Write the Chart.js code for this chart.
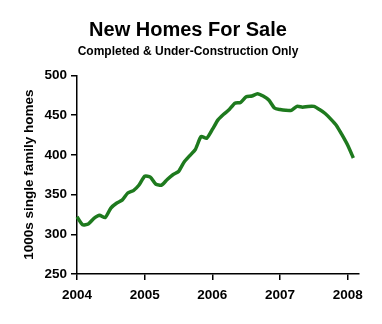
<!DOCTYPE html>
<html>
<head>
<meta charset="utf-8">
<script src="https://cdn.jsdelivr.net/npm/chart.js@4"></script>
<style>
 body {margin:0; background:#fff;}
 #grafico {display:block;}
</style>
</head>
<body>
<canvas id="grafico" width="382" height="324"></canvas>
<script>
//Meses (Ene 2004 a Mar 2008), solo se rotula enero
const meses = [
 "2004-01","2004-02","2004-03","2004-04","2004-05","2004-06","2004-07","2004-08","2004-09","2004-10","2004-11","2004-12",
 "2005-01","2005-02","2005-03","2005-04","2005-05","2005-06","2005-07","2005-08","2005-09","2005-10","2005-11","2005-12",
 "2006-01","2006-02","2006-03","2006-04","2006-05","2006-06","2006-07","2006-08","2006-09","2006-10","2006-11","2006-12",
 "2007-01","2007-02","2007-03","2007-04","2007-05","2007-06","2007-07","2007-08","2007-09","2007-10","2007-11","2007-12",
 "2008-01","2008-02","2008-03"
];
//Casas nuevas en venta (miles)
const casasEnVenta = [
 322,312,313,320,324,321,333,339,343,352,355,362,
 373,372,363,362,369,375,379,391,399,407,423,421,
 432,444,451,457,465,466,473,474,477,474,469,459,
 457,456,456,461,460,461,461,457,452,445,437,425,
 412,396
];
const ticksY = [250,300,350,400,450,500];

const fuente = "'Liberation Sans', Arial, sans-serif";
var canvas = document.getElementById("grafico");

//Devuelve true si el indice corresponde a enero
function esEnero(indice) {
 return meses[indice] !== undefined && meses[indice].endsWith("-01");
}

let chart = new Chart(canvas, {
 type: 'line',
 data: {
  labels: meses,
  datasets: [{
   data: casasEnVenta,
   borderColor: '#1e7a1e',
   borderWidth: 3.5,
   pointRadius: 0,
   tension: 0.2,
   fill: false
  }]
 },
 options: {
  responsive: false,
  animation: false,
  layout: {padding: {left: 17, right: 23, top: 0, bottom: 0}},
  plugins: {
   legend: {display: false},
   tooltip: {enabled: false},
   title: {
    display: true,
    text: 'New Homes For Sale',
    color: '#000',
    font: {family: fuente, size: 20, weight: 'bold'},
    padding: {top: 18, bottom: 0}
   },
   subtitle: {
    display: true,
    text: 'Completed & Under-Construction Only',
    color: '#000',
    font: {family: fuente, size: 12, weight: 'bold'},
    padding: {top: 2, bottom: 17}
   }
  },
  scales: {
   x: {
    type: 'category',
    offset: false,
    grid: {
     display: true,
     drawOnChartArea: false,
     drawTicks: true,
     tickLength: 6,
     tickWidth: 1.5,
     lineWidth: 1.5,
     color: ctx => esEnero(ctx.index) ? '#000' : 'rgba(0,0,0,0)',
     tickColor: ctx => esEnero(ctx.index) ? '#000' : 'rgba(0,0,0,0)'
    },
    border: {display: true, color: '#000', width: 1.5},
    ticks: {
     autoSkip: false,
     maxRotation: 0,
     color: '#000',
     padding: 7,
     font: {family: fuente, size: 13.5, weight: 'bold'},
     callback: function(valor, indice) {
      return esEnero(indice) ? meses[indice].substring(0, 4) : '';
     }
    },
    afterFit: function(escala) { escala.height = 50; }
   },
   y: {
    min: 250,
    max: 500,
    afterBuildTicks: function(escala) { escala.ticks = ticksY.map(v => ({value: v})); },
    grid: {display: true, drawOnChartArea: false, drawTicks: true, color: '#000', tickColor: '#000', tickLength: 6, tickWidth: 1.5, lineWidth: 1.5},
    border: {display: true, color: '#000', width: 1.5},
    ticks: {
     color: '#000',
     padding: 4,
     font: {family: fuente, size: 13.5, weight: 'bold'}
    },
    title: {
     display: true,
     text: '1000s single family homes',
     color: '#000',
     font: {family: fuente, size: 13.5, weight: 'bold'},
     padding: {top: 4, bottom: 4}
    },
    afterFit: function(escala) { escala.width = 60; }
   }
  }
 }
});
</script>
</body>
</html>
